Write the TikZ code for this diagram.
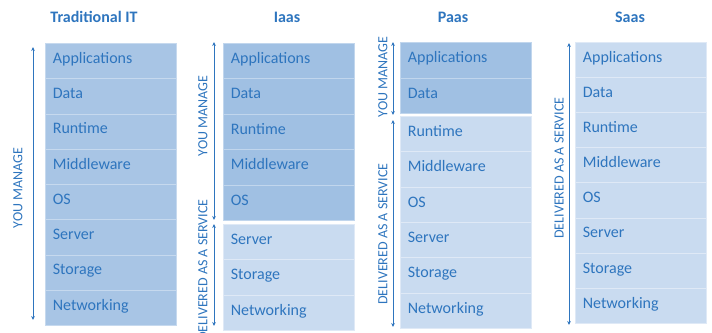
\documentclass[tikz,border=0pt]{standalone}
\usepackage{fontspec}
\setmainfont{Carlito}
\usetikzlibrary{arrows.meta}

\definecolor{txtblue}{RGB}{46,117,190}
\definecolor{tradfill}{RGB}{168,197,229}
\definecolor{darkfill}{RGB}{160,192,227}
\definecolor{lightfill}{RGB}{201,219,240}

\tikzset{
  layer/.style={anchor=north west, minimum width=131pt, text width=116pt,
    inner xsep=7.5pt, inner ysep=0pt, align=left, text height=10pt, text depth=5pt,
    font=\fontsize{16}{18}\selectfont, text=txtblue, line width=0.7pt},
  tradlayer/.style={layer, fill=tradfill, draw=white!35!tradfill},
  darklayer/.style={layer, fill=darkfill, draw=white!35!darkfill},
  lightlayer/.style={layer, fill=lightfill, draw=white!40!lightfill},
  title/.style={font=\bfseries\fontsize{16}{18}\selectfont, text=txtblue},
  side/.style={rotate=90, font=\fontsize{14}{16}\selectfont, text=txtblue, inner sep=0pt},
  span/.style={{Stealth[length=4pt,width=3.6pt]}-{Stealth[length=4pt,width=3.6pt]},
    draw=txtblue, line width=0.8pt}
}

\begin{document}
\begin{tikzpicture}[x=1pt, y=-1pt]
\useasboundingbox (0,0) rectangle (712,332);

% column titles
\node[title] (t1) at (94,17) {Traditional IT};
\node[title] (t2) at (287,17) {Iaas};
\node[title] (t3) at (453,17) {Paas};
\node[title] (t4) at (630,17) {Saas};

% Traditional IT: everything managed in house
\foreach \name [count=\i] in {Applications,Data,Runtime,Middleware,OS,Server,Storage,Networking}
  \node[tradlayer, minimum height=35.25pt] (trad\i) at (45,{43+(\i-1)*35.25}) {\name};
\coordinate (tradA) at (33,47);
\coordinate (tradB) at (33,320);
\draw[span] (tradA) -- (tradB);
\node[side] (tradym) at (18,188) {YOU MANAGE};

% IaaS
\foreach \name [count=\i] in {Applications,Data,Runtime,Middleware,OS}
  \node[darklayer, minimum height=35.4pt] (iaas\i) at (223,{43+(\i-1)*35.4}) {\name};
\foreach \name [count=\i from 6] in {Server,Storage,Networking}
  \node[lightlayer, minimum height=35.3pt] (iaas\i) at (223,{224+(\i-6)*35.3}) {\name};
\coordinate (iaasA) at (214,42);
\coordinate (iaasB) at (214,220);
\coordinate (iaasC) at (214,224);
\coordinate (iaasD) at (214,326);
\draw[span] (iaasA) -- (iaasB);
\draw[span] (iaasC) -- (iaasD);
\node[side] (iaasym) at (203,116) {YOU MANAGE};
\node[side] (iaasds) at (203,270) {DELIVERED AS A SERVICE};

% PaaS
\foreach \name [count=\i] in {Applications,Data}
  \node[darklayer, minimum height=35.5pt] (paas\i) at (400,{42+(\i-1)*35.5}) {\name};
\foreach \name [count=\i from 3] in {Runtime,Middleware,OS,Server,Storage,Networking}
  \node[lightlayer, minimum height=35.3pt] (paas\i) at (400,{116+(\i-3)*35.3}) {\name};
\coordinate (paasA) at (393,42);
\coordinate (paasB) at (393,115);
\coordinate (paasC) at (393,120);
\coordinate (paasD) at (393,327);
\draw[span] (paasA) -- (paasB);
\draw[span] (paasC) -- (paasD);
\node[side] (paasym) at (383,77) {YOU MANAGE};
\node[side] (paasds) at (383,234) {DELIVERED AS A SERVICE};

% SaaS: everything delivered
\foreach \name [count=\i] in {Applications,Data,Runtime,Middleware,OS,Server,Storage,Networking}
  \node[lightlayer, minimum height=35.1pt] (saas\i) at (575,{42+(\i-1)*35.1}) {\name};
\coordinate (saasA) at (569,43);
\coordinate (saasB) at (569,325);
\draw[span] (saasA) -- (saasB);
\node[side] (saasds) at (559,168) {DELIVERED AS A SERVICE};
\end{tikzpicture}
\end{document}
